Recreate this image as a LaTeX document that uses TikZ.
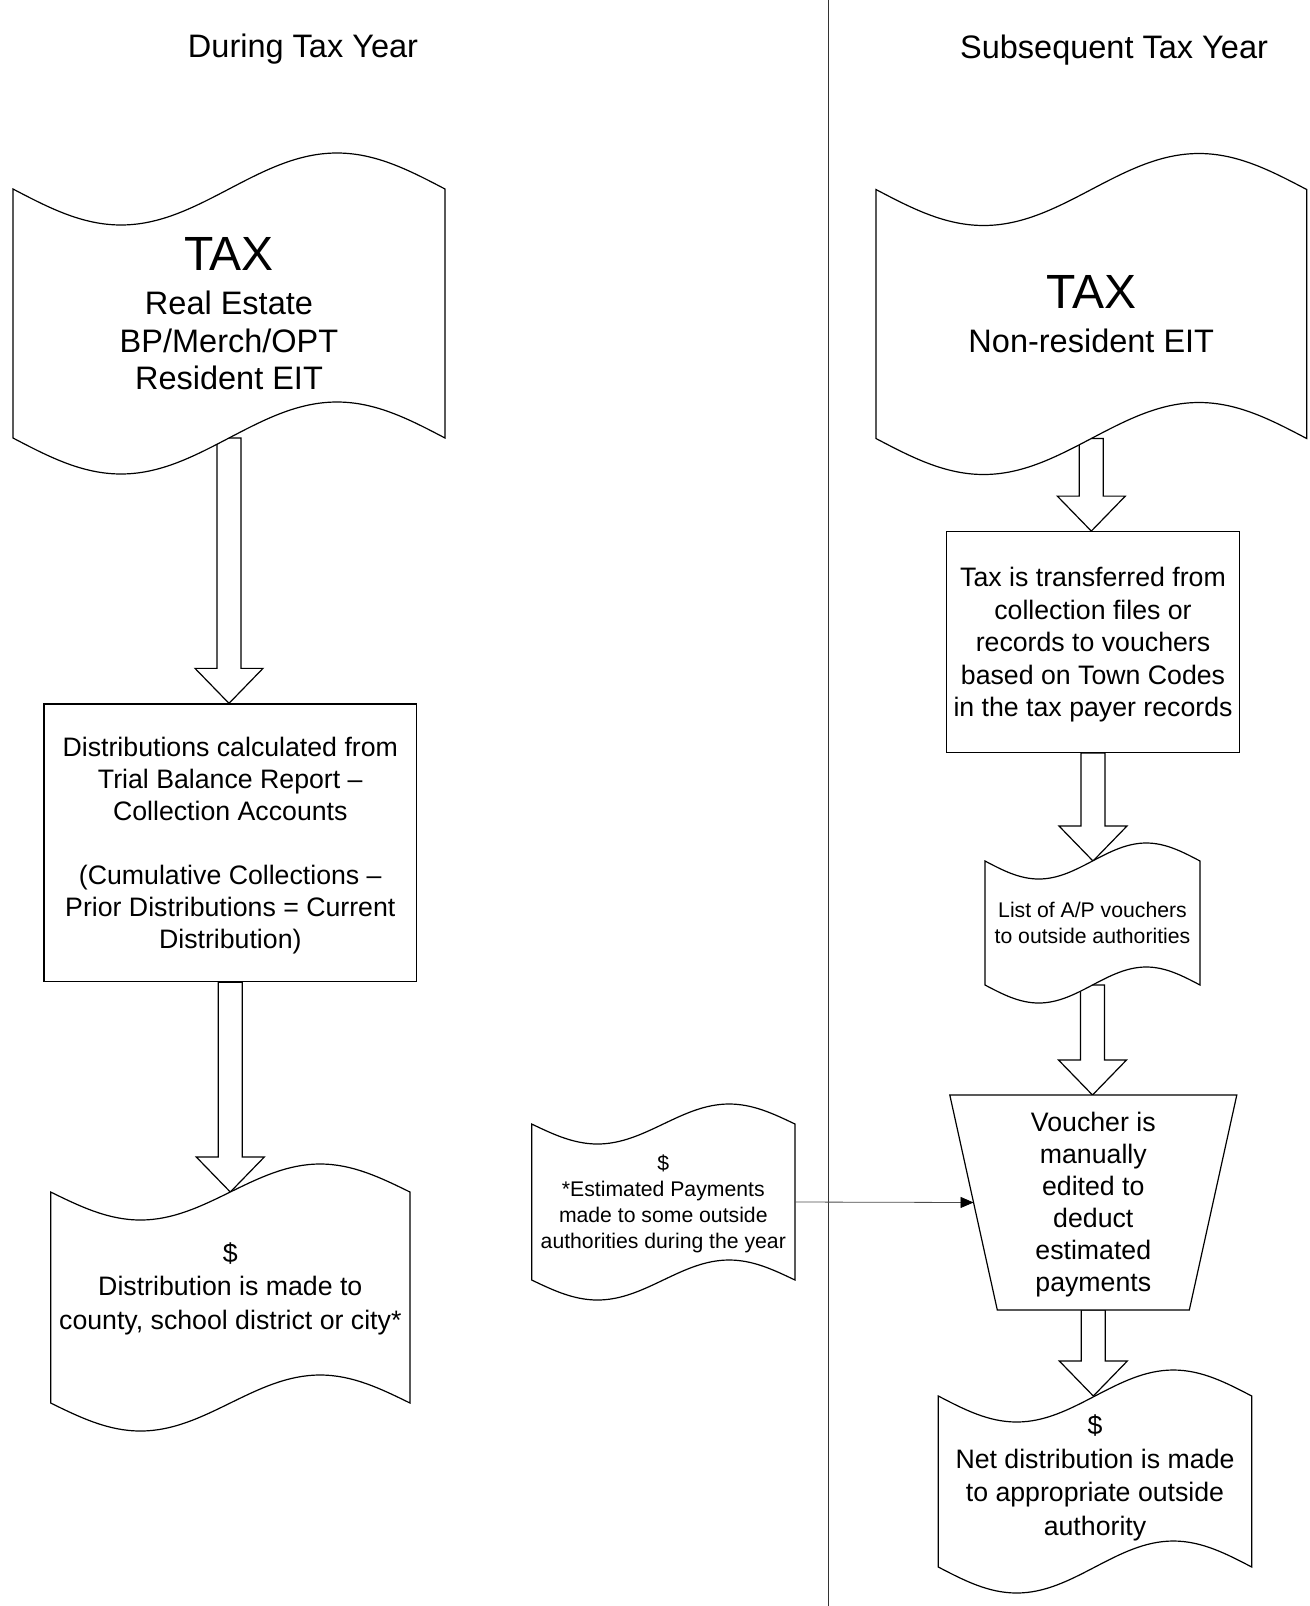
\documentclass[tikz,border=0pt]{standalone}
\usepackage{fontspec}
\setmainfont{Liberation Sans}
\usetikzlibrary{calc,arrows.meta,backgrounds}

\newcommand\shaftWidth{12pt}
\newcommand\headWidth{34pt}
\newcommand\headLength{35pt}

\begin{document}
\begin{tikzpicture}[x=1pt,y=-1pt,
    headtext/.style={font=\fontsize{32.5}{37.5}\selectfont},
    bodytext/.style={font=\fontsize{26.7}{32}\selectfont},
    widetext/.style={font=\fontsize{26.7}{33.5}\selectfont},
    smalltext/.style={font=\fontsize{21.2}{26}\selectfont},
    tapebox/.style={rectangle, inner sep=0pt, outer sep=0pt, align=center},
    procbox/.style={rectangle, draw, line width=1.2pt, inner sep=0pt, align=center},
    tapeline/.style={draw, line width=1.2pt, fill=white},
    blockarrow/.style={draw, line width=1.2pt, fill=white},
    estline/.style={draw=black!70, line width=0.8pt, -{Triangle[length=13pt,width=11pt,black]}}]
    \useasboundingbox (0,0) rectangle (1309,1606);
    \def\bigTax{\fontsize{48}{52}\selectfont TAX}
    \def\tapeOutline[#1,#2]{% Punched tape outline round node #1, wave height #2
        \draw[tapeline] let \p1=(#1.north west), \p2=(#1.south east), \n1={(\x2-\x1)/4} in
            (\p1) sin ++(\n1,#2) cos ++(\n1,-#2) sin ++(\n1,-#2) cos ++(\n1,#2)
            -- (\p2) sin ++(-\n1,-#2) cos ++(-\n1,#2) sin ++(-\n1,#2) cos ++(-\n1,-#2) -- cycle;
    }
    \def\blockArrow[#1,#2]{% Hollow arrow from node #1 down to node #2
        \draw[blockarrow] let \p1=(#1.south), \p2=(#2.north) in
            (\x1-\shaftWidth,\y1) -- (\x1-\shaftWidth,\y2+\headLength) -- (\x1-\headWidth,\y2+\headLength)
            -- (\x1,\y2) -- (\x1+\headWidth,\y2+\headLength) -- (\x1+\shaftWidth,\y2+\headLength)
            -- (\x1+\shaftWidth,\y1) -- cycle;
    }
    % Column headings and divider
    \node[headtext] (during) at (303,49) {During Tax Year};
    \node[headtext] (subsequent) at (1114,50) {Subsequent Tax Year};
    \draw[black!80, line width=0.8pt] (828,0) -- (828,1606);
    % During tax year
    \node[tapebox, headtext, text depth=-4pt, minimum width=432pt, minimum height=249pt] (taxA) at (229,313.5) {{\bigTax}\\[6.5pt] Real Estate\\ BP/Merch/OPT\\ Resident EIT};
    \node[procbox, bodytext, text depth=0.6pt, minimum width=372.7pt, minimum height=277.7pt] (distCalc) at (230.3,842.8) {Distributions calculated from\\ Trial Balance Report –\\ Collection Accounts\\[32pt] (Cumulative Collections –\\ Prior Distributions = Current\\ Distribution)};
    \node[tapebox, widetext, text depth=23pt, minimum width=359.3pt, minimum height=211pt] (distMade) at (230.3,1297.5) {\$\\ Distribution is made to\\ county, school district or city*};
    \node[tapebox, smalltext, text depth=-4.8pt, minimum width=263.3pt, minimum height=156pt] (estPay) at (663.3,1202) {\$\\ *Estimated Payments\\ made to some outside\\ authorities during the year};
    % Subsequent tax year
    \node[tapebox, headtext, text depth=-5pt, minimum width=430.7pt, minimum height=249pt] (taxB) at (1091.3,314) {{\bigTax}\\[6.5pt] Non-resident EIT};
    \node[procbox, font=\fontsize{26.7}{32.5}\selectfont, text depth=-0.4pt, minimum width=292.6pt, minimum height=220.6pt] (transfer) at (1093,642) {Tax is transferred from\\ collection files or\\ records to vouchers\\ based on Town Codes\\ in the tax payer records};
    \node[tapebox, smalltext, minimum width=215pt, minimum height=124pt] (apList) at (1092.5,923) {List of A/P vouchers\\ to outside authorities};
    \node[tapebox, bodytext, text depth=0.6pt, minimum width=287pt, minimum height=215pt] (voucher) at (1093.3,1202.5) {Voucher is\\ manually\\ edited to\\ deduct\\ estimated\\ payments};
    \node[tapebox, widetext, text depth=13pt, minimum width=313.4pt, minimum height=171pt] (netDist) at (1095,1481.5) {\$\\ Net distribution is made\\ to appropriate outside\\ authority};
    % Draw arrows first, the tape shapes then cover their ends
    \begin{scope}[on background layer]
        \foreach \src/\dst in {taxA/distCalc, distCalc/distMade, taxB/transfer, transfer/apList, apList/voucher, voucher/netDist}
            \blockArrow[\src,\dst];
        \foreach \tp/\amp in {taxA/36, distMade/28, estPay/20, taxB/36, apList/18, netDist/26}
            \tapeOutline[\tp,\amp];
        \draw[tapeline] (voucher.north west) -- (voucher.north east) -- ([xshift=-47.5pt]voucher.south east) -- ([xshift=47.5pt]voucher.south west) -- cycle;
    \end{scope}
    % Estimated payments go into the voucher edit
    \coordinate (vchLeft) at ($(voucher.north west)!0.5!([xshift=47.5pt]voucher.south west)$);
    \draw[estline] (estPay.east) -- (vchLeft);
\end{tikzpicture}
\end{document}
